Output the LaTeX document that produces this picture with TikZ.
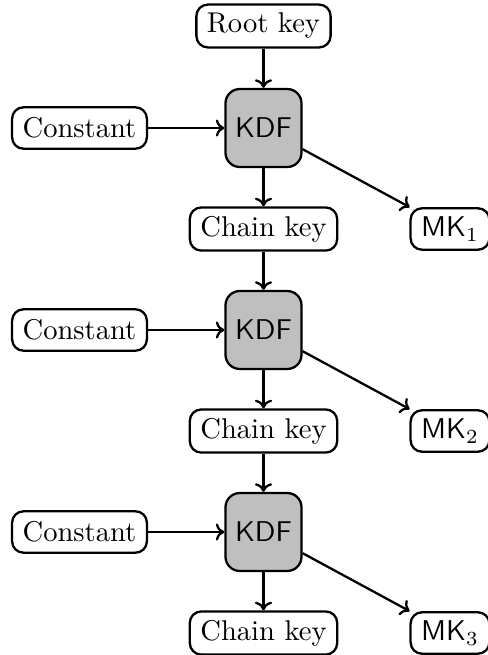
\documentclass[tikz,border=0pt]{standalone}
\usetikzlibrary{arrows.meta}
\begin{document}
\begin{tikzpicture}[x=0.35pt,y=-0.35pt,
  keybox/.style={draw,thick,rounded corners=4pt,inner xsep=3.7pt,inner ysep=3pt,minimum height=14.5pt},
  kdfbox/.style={draw,thick,rounded corners=5pt,fill=black!25,minimum width=26.6pt,minimum height=27.3pt,font=\sffamily},
  flow/.style={thick,-{To[length=3pt,width=6pt]}}]
\useasboundingbox (0,0) rectangle (487,655);
% main column
\node[keybox] (root) at (263.5,26) {Root key};
\foreach \i/\y in {1/128,2/330,3/532}{
  \node[kdfbox] (kdf\i) at (263.5,\y) {KDF};
  \node[keybox] (const\i) at (79.5,\y) {Constant};
  \node[keybox] (chain\i) at (263.5,\y+101) {Chain key};
  \node[keybox] (mk\i) at (450,\y+101) {\textsf{MK}$_\i$};
  \draw[flow] (const\i) -- (kdf\i);
  \draw[flow] (kdf\i) -- (chain\i);
  \draw[flow] (kdf\i) -- (mk\i);
}
\draw[flow] (root) -- (kdf1);
\draw[flow] (chain1) -- (kdf2);
\draw[flow] (chain2) -- (kdf3);
\end{tikzpicture}
\end{document}
